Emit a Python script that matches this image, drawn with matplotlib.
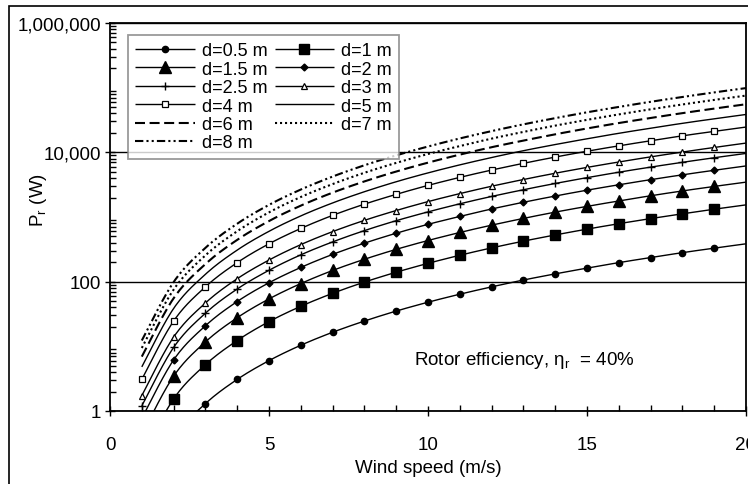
import numpy as np
import matplotlib
matplotlib.use("Agg")
import matplotlib.pyplot as plt
from matplotlib.patches import Rectangle
from matplotlib.ticker import FixedLocator, LogLocator, NullFormatter

plt.rcParams['font.family'] = ['Liberation Sans', 'DejaVu Sans']

# wind speed (m/s)
speeds = [1, 2, 3, 4, 5, 6, 7, 8, 9, 10, 11, 12, 13, 14, 15, 16, 17, 18, 19, 20]

# rotor power (W) per rotor diameter
p_d05 = [0.048, 0.385, 1.30, 3.08, 6.01, 10.4, 16.5, 24.6, 35.1, 48.1,
         64.0, 83.1, 106, 132, 162, 197, 236, 281, 330, 385]
p_d1 = [0.192, 1.54, 5.20, 12.3, 24.1, 41.6, 66.0, 98.5, 140, 192,
        256, 333, 423, 528, 649, 788, 945, 1120, 1320, 1540]
p_d15 = [0.433, 3.46, 11.7, 27.7, 54.1, 93.5, 149, 222, 316, 433,
         576, 748, 951, 1190, 1460, 1770, 2130, 2530, 2970, 3460]
p_d2 = [0.770, 6.16, 20.8, 49.3, 96.2, 166, 264, 394, 561, 770,
        1020, 1330, 1690, 2110, 2600, 3150, 3780, 4490, 5280, 6160]
p_d25 = [1.20, 9.62, 32.5, 77.0, 150, 260, 412, 616, 877, 1200,
         1600, 2080, 2640, 3300, 4060, 4930, 5910, 7010, 8250, 9620]
p_d3 = [1.73, 13.9, 46.8, 111, 216, 374, 594, 887, 1260, 1730,
        2300, 2990, 3800, 4750, 5850, 7090, 8510, 10100, 11900, 13900]
p_d4 = [3.08, 24.6, 83.1, 197, 385, 665, 1060, 1580, 2240, 3080,
        4100, 5320, 6760, 8450, 10400, 12600, 15100, 18000, 21100, 24600]
p_d5 = [4.81, 38.5, 130, 308, 601, 1040, 1650, 2460, 3510, 4810,
        6400, 8310, 10600, 13200, 16200, 19700, 23600, 28100, 33000, 38500]
p_d6 = [6.93, 55.4, 187, 443, 866, 1500, 2380, 3550, 5050, 6930,
        9220, 12000, 15200, 19000, 23400, 28400, 34000, 40400, 47500, 55400]
p_d7 = [9.43, 75.4, 255, 603, 1180, 2040, 3230, 4830, 6870, 9430,
        12500, 16300, 20700, 25900, 31800, 38600, 46300, 55000, 64700, 75400]
p_d8 = [12.3, 98.5, 333, 788, 1540, 2660, 4220, 6310, 8980, 12300,
        16400, 21300, 27100, 33800, 41600, 50400, 60500, 71800, 84500, 98500]

labels = ["d=0.5 m", "d=1 m", "d=1.5 m", "d=2 m", "d=2.5 m", "d=3 m",
          "d=4 m", "d=5 m", "d=6 m", "d=7 m", "d=8 m"]
series = [p_d05, p_d1, p_d15, p_d2, p_d25, p_d3, p_d4, p_d5, p_d6, p_d7, p_d8]

# line / marker styles (Excel-like black & white)
styles = [
    dict(marker='o', ms=4.5, mfc='black', ls='-', lw=1.0),
    dict(marker='s', ms=6.5, mfc='black', ls='-', lw=1.0),
    dict(marker='^', ms=8, mfc='black', ls='-', lw=1.0),
    dict(marker='D', ms=3.5, mfc='black', ls='-', lw=1.0),
    dict(marker='+', ms=6, mew=1.0, ls='-', lw=1.0),
    dict(marker='^', ms=5, mfc='white', mew=0.9, ls='-', lw=1.0),
    dict(marker='s', ms=4.5, mfc='white', mew=0.9, ls='-', lw=1.0),
    dict(ls='-', lw=1.0),
    dict(ls=(0, (4.8, 2.2)), lw=1.5),
    dict(ls=(0, (1.0, 1.4)), lw=1.5),
    dict(ls=(0, (4.0, 1.5, 1.0, 1.5, 1.0, 1.5)), lw=1.5),
]


def smooth(x, y, n=16):
    # Excel-style smoothed line (bezier through the points, in log space)
    pts = np.column_stack([np.asarray(x, float), np.log10(y)])
    out = []
    for i in range(len(pts) - 1):
        p0 = pts[max(i - 1, 0)]
        p1 = pts[i]
        p2 = pts[i + 1]
        p3 = pts[min(i + 2, len(pts) - 1)]
        c1 = p1 + (p2 - p0) / 6
        c2 = p2 - (p3 - p1) / 6
        t = np.linspace(0, 1, n, endpoint=(i == len(pts) - 2))[:, None]
        seg = (1 - t) ** 3 * p1 + 3 * (1 - t) ** 2 * t * c1 + 3 * (1 - t) * t ** 2 * c2 + t ** 3 * p2
        out.append(seg)
    out = np.vstack(out)
    return out[:, 0], 10 ** out[:, 1]


fig = plt.figure(figsize=(7.48, 4.85), dpi=100)
ax = fig.add_axes([110 / 748, 73 / 485, 636 / 748, 388 / 485])

handles = []
n = 16
for vals, lab, st in zip(series, labels, styles):
    xs, ys = smooth(speeds, vals, n)
    ln, = ax.plot(xs, ys, color='black', mec='black', markevery=slice(0, None, n),
                  label=lab, solid_capstyle='butt', dash_capstyle='butt', **st)
    handles.append(ln)

ax.set_yscale('log')
ax.set_xlim(0, 20)
ax.set_ylim(1, 1e6)

ax.set_xticks([0, 5, 10, 15, 20])
ax.set_xticklabels(["0", "5", "10", "15", "20"])
ax.xaxis.set_minor_locator(FixedLocator(speeds))
ax.set_yticks([1, 100, 10000, 1000000])
ax.set_yticklabels(["1", "100", "10,000", "1,000,000"])
ax.yaxis.set_minor_locator(LogLocator(base=10, subs=np.arange(2, 10), numticks=20))
ax.yaxis.set_minor_formatter(NullFormatter())

ax.tick_params(which='major', direction='inout', length=7, width=1.0, labelsize=13.5)
ax.tick_params(axis='x', which='major', pad=14.5)
ax.tick_params(axis='y', which='major', pad=3)
ax.tick_params(which='minor', direction='in', length=4, width=1.0)

ax.yaxis.grid(True, which='major', color='black', lw=1.0)
for sp in ax.spines.values():
    sp.set_linewidth(1.3)

ax.set_xlabel("Wind speed (m/s)", fontsize=13.5, labelpad=4)
ax.set_ylabel(r"$\mathregular{P_r}$ (W)", fontsize=13.5)
ax.yaxis.set_label_coords(-0.112, 0.546)
ax.yaxis.label.set_verticalalignment('center')

ax.text(9.55, 6.2, r"Rotor efficiency, $\mathregular{η_r}$  = 40%", fontsize=13.5,
        ha='left', va='center')

order = [0, 2, 4, 6, 8, 10, 1, 3, 5, 7, 9]
leg = ax.legend([handles[i] for i in order], [labels[i] for i in order],
                ncol=2, loc='upper left', bbox_to_anchor=(0.028, 0.969),
                borderaxespad=0, fontsize=13, frameon=True, fancybox=False,
                handlelength=3.3, handletextpad=0.4, columnspacing=0.4,
                labelspacing=0.08, borderpad=0.4, numpoints=1)
leg.get_frame().set_edgecolor('#808080')
leg.get_frame().set_linewidth(1.3)

# outer chart border (cropped at right/bottom like the source image)
fig.patches.append(Rectangle((9 / 748, -0.2), 1.5, 1.2 - 7 / 485, transform=fig.transFigure,
                             fill=False, edgecolor='black', lw=1.2))

fig.savefig("out.png", dpi=100)
